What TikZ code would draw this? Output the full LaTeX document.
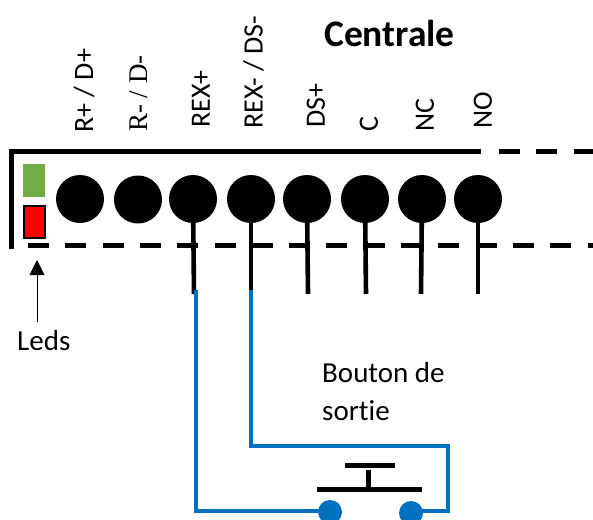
\documentclass[tikz,border=0pt]{standalone}
\usepackage{fontspec}
\setmainfont[Ligatures=NoCommon]{Carlito}
\newfontfamily\serifcap{Liberation Serif}
\usetikzlibrary{arrows.meta}
\tikzset{
  px/.style={x=1pt,y=-1pt},
  term/.style={circle,fill=black,minimum size=48pt,inner sep=0pt,outer sep=0pt},
  contact/.style={circle,fill=wireblue,minimum size=24pt,inner sep=0pt,outer sep=0pt},
  stem/.style={line width=4.6pt,black},
  frame/.style={line width=5pt,black},
  framedash/.style={line width=5pt,black,dash pattern=on 21pt off 16.3pt},
  wire/.style={line width=4.8pt,wireblue,line join=miter},
  lab/.style={rotate=90,anchor=west,font=\fontsize{28}{30}\selectfont,inner sep=0pt},
  txt/.style={font=\fontsize{29}{38}\selectfont,inner sep=0pt,anchor=base west,align=left},
}
\definecolor{wireblue}{RGB}{0,112,192}
\definecolor{ledgreen}{RGB}{112,173,71}
\begin{document}
\begin{tikzpicture}[px]
\useasboundingbox (0,0) rectangle (593,519);
\begin{scope}
\clip (0,0) rectangle (593,519);
% frame
\coordinate (fl) at (11,249);
\coordinate (ftl) at (11,151);
\coordinate (ftr) at (481,151);
\coordinate (ftd) at (499,151);
\coordinate (fte) at (593,151);
\coordinate (fbl) at (28,245);
\coordinate (fbr) at (593,245);
\draw[frame,line join=miter] (fl) -- (ftl) -- (ftr);
\draw[framedash] (ftd) -- (fte);
\draw[framedash] (fbl) -- (fbr);
% leds
\node[fill=ledgreen,minimum width=22pt,minimum height=33pt,inner sep=0pt] (gled) at (34,180.5) {};
\node[fill=red,draw=black,line width=2pt,minimum width=21pt,minimum height=32pt,inner sep=0pt] (rled) at (34.5,221.5) {};
% stems
\coordinate (s3) at (194,294);
\coordinate (s4) at (251,294);
\coordinate (s5) at (308,294);
\coordinate (s6) at (366,294);
\coordinate (s7) at (421,294);
\coordinate (s8) at (478,294);
% terminals
\node[term] (t1) at (80,199) {};
\node[term] (t2) at (138,199.5) {};
\node[term] (t3) at (193,199) {};
\node[term] (t4) at (251,199) {};
\node[term] (t5) at (307,199) {};
\node[term] (t6) at (365,199) {};
\node[term] (t7) at (422,199) {};
\node[term] (t8) at (478,199) {};
\draw[stem] (t3.center) -- (s3);
\draw[stem] (t4.center) -- (s4);
\draw[stem] (t5.center) -- (s5);
\draw[stem] (t6.center) -- (s6);
\draw[stem] (t7.center) -- (s7);
\draw[stem] (t8.center) -- (s8);
% labels
\node[lab] (l1) at (84,133) {R+ / D+};
\node[lab,font=\serifcap\fontsize{27}{30}\selectfont] (l2) at (139,132) {R- / D-};
\node[lab] (l3) at (201,128) {REX+};
\node[lab] (l4) at (253.5,129) {REX- / DS-};
\node[lab] (l5) at (316,128) {DS+};
\node[lab] (l6) at (369,132) {C};
\node[lab] (l7) at (425,132) {NC};
\node[lab] (l8) at (483,129) {NO};
\node[font=\bfseries\fontsize{37.5}{40}\selectfont,inner sep=0pt] (title) at (389.5,33) {Centrale};
% leds label
\node[txt] (leds) at (17,350) {Leds};
\coordinate (atip) at (37,260);
\coordinate (atail) at (37,322);
\draw[line width=1pt,-{Triangle[length=15pt,width=15pt]}] (atail) -- (atip);
% button
\node[txt,anchor=north west] (btn) at (322,362) {Bouton de\\sortie};
\node[contact] (c1) at (330,512) {};
\node[contact] (c2) at (411,513) {};
\coordinate (w1) at (196,290);
\coordinate (w1b) at (196,511);
\coordinate (w2) at (251,290);
\coordinate (w2b) at (251,446);
\coordinate (w2c) at (448,446);
\coordinate (w2d) at (448,511);
\draw[wire] (w1) -- (w1b) -- (c1.center |- w1b);
\draw[wire] (w2) -- (w2b) -- (w2c) -- (w2d) -- (c2.center |- w2d);
% switch
\coordinate (ba) at (345,465);
\coordinate (bb) at (395,465);
\coordinate (ma) at (368,470);
\coordinate (mb) at (368,489);
\coordinate (la) at (317,489);
\coordinate (lb) at (422,489);
\draw[frame] (ba) -- (bb);
\draw[frame] (ma) -- (mb);
\draw[frame] (la) -- (lb);
\end{scope}
\end{tikzpicture}
\end{document}
